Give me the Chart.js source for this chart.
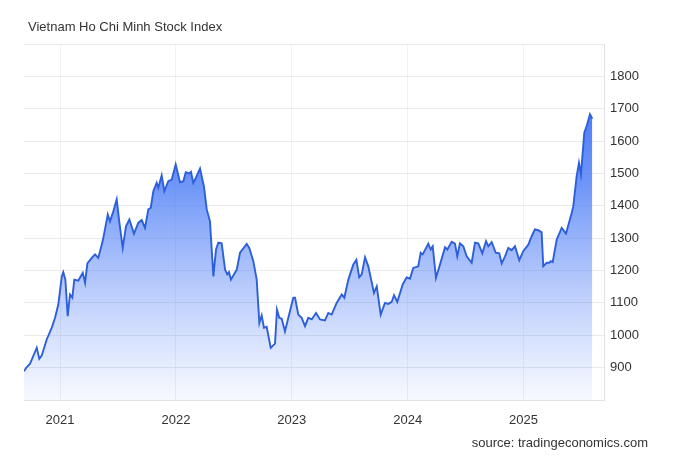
<!DOCTYPE html>
<html>
<head>
<meta charset="utf-8">
<script src="https://cdn.jsdelivr.net/npm/chart.js@4.4.1/dist/chart.umd.min.js"></script>
<style>
  html, body { margin: 0; padding: 0; background: #fff; }
  body { width: 673px; height: 461px; position: relative; overflow: hidden; font-family: "Liberation Sans", Arial, sans-serif; }
  #wrap { position: absolute; left: 0; top: 0; width: 673px; height: 461px; }
  .title { position: absolute; left: 28px; top: 19px; font-size: 13px; color: #333; }
  .source { position: absolute; right: 25px; top: 435px; font-size: 13px; color: #333; }
</style>
</head>
<body>
<div id="wrap"><canvas id="chart" width="673" height="461"></canvas></div>
<div class="title">Vietnam Ho Chi Minh Stock Index</div>
<div class="source">source: tradingeconomics.com</div>
<script>
// index readings, x in decimal years
const dates = [
  2020.689, 2020.713, 2020.741, 2020.799, 2020.821, 2020.842, 2020.885, 2020.928, 2020.957, 2020.985,
  2021.015, 2021.028, 2021.046, 2021.066, 2021.086, 2021.106, 2021.123, 2021.158, 2021.196, 2021.216,
  2021.236, 2021.274, 2021.302, 2021.330, 2021.368, 2021.412, 2021.431, 2021.460, 2021.489, 2021.512,
  2021.541, 2021.569, 2021.598, 2021.638, 2021.676, 2021.705, 2021.733, 2021.762, 2021.783, 2021.805,
  2021.834, 2021.848, 2021.877, 2021.900, 2021.934, 2021.964, 2021.998, 2022.035, 2022.064, 2022.085,
  2022.116, 2022.130, 2022.150, 2022.173, 2022.208, 2022.242, 2022.266, 2022.294, 2022.323, 2022.346,
  2022.366, 2022.395, 2022.424, 2022.443, 2022.458, 2022.475, 2022.525, 2022.553, 2022.611, 2022.633,
  2022.668, 2022.697, 2022.720, 2022.740, 2022.760, 2022.783, 2022.818, 2022.855, 2022.872, 2022.892,
  2022.913, 2022.941, 2022.970, 2023.013, 2023.028, 2023.056, 2023.085, 2023.114, 2023.142, 2023.172,
  2023.209, 2023.243, 2023.286, 2023.315, 2023.344, 2023.387, 2023.431, 2023.453, 2023.488, 2023.531,
  2023.557, 2023.582, 2023.603, 2023.632, 2023.660, 2023.709, 2023.733, 2023.767, 2023.804, 2023.833,
  2023.862, 2023.882, 2023.910, 2023.957, 2023.991, 2024.020, 2024.048, 2024.091, 2024.112, 2024.129,
  2024.178, 2024.198, 2024.216, 2024.244, 2024.279, 2024.322, 2024.342, 2024.380, 2024.408, 2024.428,
  2024.451, 2024.480, 2024.509, 2024.552, 2024.581, 2024.609, 2024.644, 2024.676, 2024.696, 2024.725,
  2024.760, 2024.790, 2024.811, 2024.840, 2024.868, 2024.897, 2024.926, 2024.963, 2024.997, 2025.041,
  2025.070, 2025.098, 2025.127, 2025.156, 2025.170, 2025.199, 2025.222, 2025.234, 2025.251, 2025.286,
  2025.329, 2025.366, 2025.415, 2025.429, 2025.458, 2025.478, 2025.495, 2025.524, 2025.544, 2025.573,
  2025.593
];
const values = [
  889, 902, 912, 961, 927, 937, 987, 1023, 1054, 1095,
  1182, 1195, 1172, 1059, 1126, 1116, 1172, 1169, 1193, 1162,
  1222, 1239, 1250, 1239, 1291, 1373, 1352, 1383, 1420, 1348,
  1270, 1337, 1358, 1314, 1348, 1356, 1332, 1389, 1394, 1445,
  1471, 1456, 1494, 1445, 1476, 1481, 1528, 1473, 1476, 1504,
  1500, 1505, 1471, 1487, 1515, 1459, 1389, 1352, 1182, 1265,
  1286, 1284, 1203, 1188, 1195, 1172, 1203, 1255, 1282, 1270,
  1229, 1172, 1038, 1061, 1023, 1026, 961, 974, 1079, 1054,
  1051, 1012, 1054, 1116, 1116, 1064, 1054, 1028, 1054, 1049,
  1069, 1049, 1046, 1069, 1064, 1100, 1126, 1116, 1172, 1219,
  1233, 1179, 1188, 1241, 1213, 1131, 1151, 1064, 1100, 1097,
  1103, 1124, 1103, 1157, 1179, 1175, 1208, 1213, 1255, 1250,
  1283, 1265, 1275, 1177, 1219, 1272, 1265, 1289, 1283, 1244,
  1284, 1275, 1244, 1224, 1286, 1284, 1253, 1291, 1275, 1288,
  1255, 1253, 1222, 1244, 1270, 1263, 1275, 1232, 1260, 1280,
  1306, 1327, 1325, 1318, 1213, 1224, 1224, 1229, 1226, 1296,
  1332, 1314, 1378, 1399, 1492, 1533, 1497, 1626, 1646, 1683,
  1669
];
const yearTicks = [2021, 2022, 2023, 2024, 2025];

const points = dates.map((d, i) => ({ x: d, y: values[i] }));

function areaGradient(context) {
  const area = context.chart.chartArea;
  if (!area) return 'rgba(60,110,245,0.5)';
  const g = context.chart.ctx.createLinearGradient(0, area.top, 0, area.bottom);
  g.addColorStop(0, 'rgba(45,98,244,1)');
  g.addColorStop(0.4, 'rgba(72,122,246,0.78)');
  g.addColorStop(1, 'rgba(115,152,250,0.06)');
  return g;
}

const tickFont = { family: '"Liberation Sans", Arial, sans-serif', size: 13 };

new Chart(document.getElementById('chart'), {
  type: 'line',
  data: {
    datasets: [{
      data: points,
      borderColor: '#2c5fd9',
      borderWidth: 1.9,
      backgroundColor: areaGradient,
      fill: 'start',
      pointRadius: 0,
      tension: 0
    }]
  },
  options: {
    responsive: false,
    animation: false,
    events: [],
    layout: { padding: { left: 24, top: 44, right: 0, bottom: 0 } },
    plugins: { legend: { display: false }, tooltip: { enabled: false } },
    scales: {
      x: {
        type: 'linear',
        min: 2020.689,
        max: 2025.694,
        afterBuildTicks: (scale) => { scale.ticks = yearTicks.map(v => ({ value: v })); },
        afterFit: (scale) => { scale.height = 61; },
        grid: { color: '#f0f0f0', drawTicks: false },
        border: { color: '#e2e2e2' },
        ticks: { font: tickFont, color: '#333', padding: 13, maxRotation: 0, callback: v => String(v) }
      },
      y: {
        position: 'right',
        min: 800,
        max: 1900,
        afterFit: (scale) => { scale.width = 69; },
        grid: { color: '#e9e9e9', drawTicks: false },
        border: { color: '#e2e2e2' },
        ticks: {
          stepSize: 100,
          font: tickFont,
          color: '#333',
          padding: 6,
          callback: v => (v === 800 || v === 1900) ? '' : String(v)
        }
      }
    }
  }
});
</script>
</body>
</html>
